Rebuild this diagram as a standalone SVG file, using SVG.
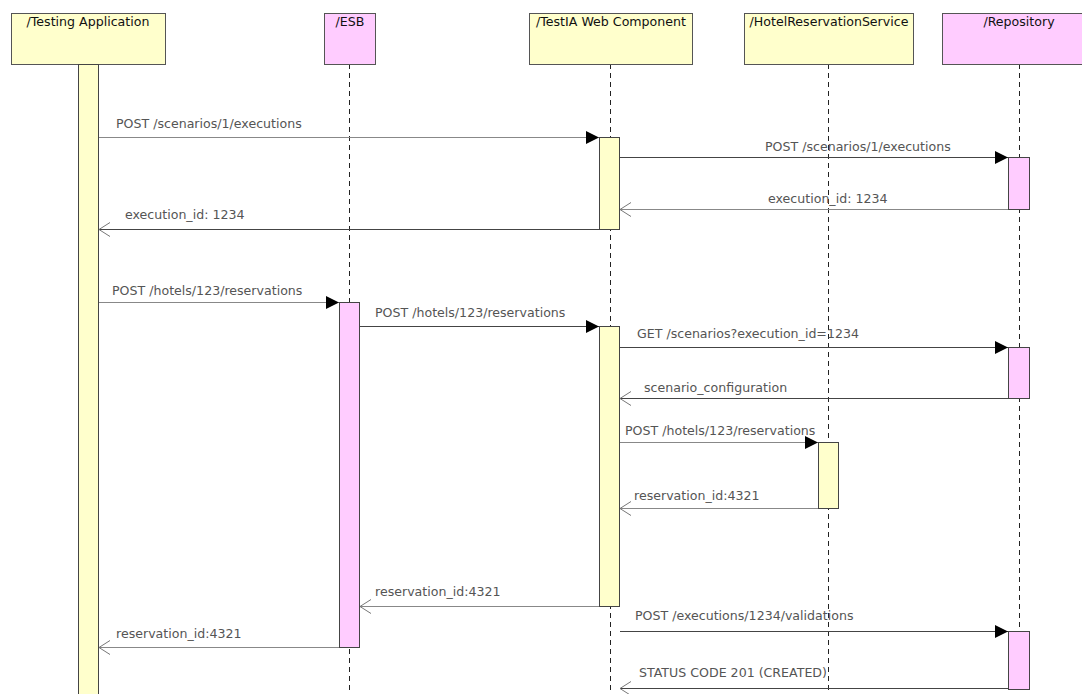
<svg xmlns="http://www.w3.org/2000/svg" width="1082" height="694" viewBox="0 0 1082 694">
<style>
text{font-family:"DejaVu Sans","Liberation Sans",sans-serif;font-size:12.6px}
.head{fill:#111;text-anchor:middle}
.lbl{fill:#555}
.yel{fill:#ffffcc;stroke:#555;stroke-width:1}
.pink{fill:#ffccff;stroke:#555;stroke-width:1}
.life{stroke:#222;stroke-width:1;stroke-dasharray:5,4;fill:none}
.act-y{fill:#ffffcc;stroke:#444;stroke-width:1}
.act-p{fill:#ffccff;stroke:#444;stroke-width:1}
.msg{stroke:#444;stroke-width:1;fill:none;marker-end:url(#solid)}
.msg.g{stroke:#888}
.ret{stroke:#444;stroke-width:1;fill:none;marker-end:url(#open)}
.ret.g{stroke:#888}
</style>
<defs>
<marker id="solid" markerUnits="userSpaceOnUse" markerWidth="13" markerHeight="13" refX="13" refY="6.5" orient="auto">
<path d="M0,0 L13,6.5 L0,13 z" fill="#000"/>
</marker>
<marker id="open" markerUnits="userSpaceOnUse" markerWidth="13" markerHeight="16" refX="12" refY="8" orient="auto">
<path d="M1,1 L12,8 L1,15" fill="none" stroke="#777" stroke-width="1"/>
</marker>
</defs>
<rect width="1082" height="694" fill="#fff"/>

<g id="lifelines">
<line class="life" x1="349.5" y1="64" x2="349.5" y2="694"/>
<line class="life" x1="610.5" y1="64" x2="610.5" y2="694"/>
<line class="life" x1="828.5" y1="64" x2="828.5" y2="694"/>
<line class="life" x1="1019.5" y1="64" x2="1019.5" y2="694"/>
</g>

<g id="node-testing-application">
<rect class="yel" x="11.5" y="13.5" width="154" height="51"/>
<text class="head" x="88" y="26">/Testing Application</text>
<rect class="act-y" x="78.5" y="64.5" width="20" height="640"/>
</g>
<g id="node-esb">
<rect class="pink" x="324.5" y="13.5" width="51" height="51"/>
<text class="head" x="350" y="26">/ESB</text>
<rect class="act-p" x="339.5" y="302.5" width="20" height="345"/>
</g>
<g id="node-testia">
<rect class="yel" x="529.5" y="13.5" width="163" height="51"/>
<text class="head" x="611" y="26">/TestIA Web Component</text>
<rect class="act-y" x="599.5" y="137.5" width="20" height="92"/>
<rect class="act-y" x="599.5" y="326.5" width="20" height="280"/>
</g>
<g id="node-hotel">
<rect class="yel" x="744.5" y="13.5" width="169" height="51"/>
<text class="head" x="829" y="26">/HotelReservationService</text>
<rect class="act-y" x="818.5" y="442.5" width="20" height="66"/>
</g>
<g id="node-repository">
<rect class="pink" x="942.5" y="13.5" width="154" height="51"/>
<text class="head" x="1019" y="26">/Repository</text>
<rect class="act-p" x="1008.5" y="157.5" width="21" height="52"/>
<rect class="act-p" x="1008.5" y="347.5" width="21" height="51"/>
<rect class="act-p" x="1008.5" y="631.5" width="21" height="58"/>
</g>

<g id="connectors">
<line class="msg g" x1="99" y1="137.5" x2="599" y2="137.5"/>
<text class="lbl" x="116" y="128">POST /scenarios/1/executions</text>

<line class="msg" x1="620" y1="157.5" x2="1008" y2="157.5"/>
<text class="lbl" x="765" y="151">POST /scenarios/1/executions</text>

<line class="ret g" x1="1008" y1="209.5" x2="620" y2="209.5"/>
<text class="lbl" x="768" y="203">execution_id: 1234</text>

<line class="ret" x1="599" y1="229.5" x2="99" y2="229.5"/>
<text class="lbl" x="125" y="219">execution_id: 1234</text>

<line class="msg g" x1="99" y1="302.5" x2="339" y2="302.5"/>
<text class="lbl" x="112" y="295">POST /hotels/123/reservations</text>

<line class="msg" x1="360" y1="326.5" x2="599" y2="326.5"/>
<text class="lbl" x="375" y="317">POST /hotels/123/reservations</text>

<line class="msg" x1="620" y1="347.5" x2="1008" y2="347.5"/>
<text class="lbl" x="637" y="338">GET /scenarios?execution_id=1234</text>

<line class="ret" x1="1008" y1="398.5" x2="620" y2="398.5"/>
<text class="lbl" x="644" y="392">scenario_configuration</text>

<line class="msg g" x1="620" y1="442.5" x2="818" y2="442.5"/>
<text class="lbl" x="625" y="435">POST /hotels/123/reservations</text>

<line class="ret g" x1="818" y1="508.5" x2="620" y2="508.5"/>
<text class="lbl" x="634" y="500">reservation_id:4321</text>

<line class="ret g" x1="599" y1="606.5" x2="360" y2="606.5"/>
<text class="lbl" x="375" y="596">reservation_id:4321</text>

<line class="ret g" x1="339" y1="647.5" x2="99" y2="647.5"/>
<text class="lbl" x="116" y="638">reservation_id:4321</text>

<line class="msg" x1="620" y1="631.5" x2="1008" y2="631.5"/>
<text class="lbl" x="635" y="620">POST /executions/1234/validations</text>

<line class="ret" x1="1008" y1="688.5" x2="620" y2="688.5"/>
<text class="lbl" x="639" y="677">STATUS CODE 201 (CREATED)</text>
</g>
</svg>
